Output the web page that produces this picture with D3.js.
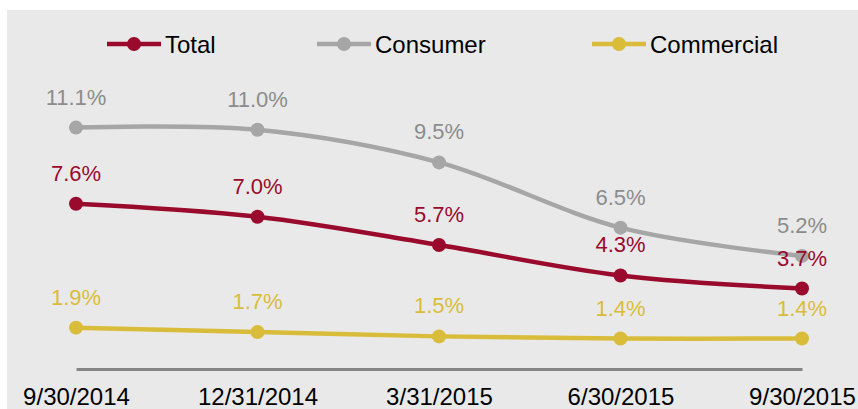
<!DOCTYPE html>
<html>
<head>
<meta charset="utf-8">
<script src="https://cdn.jsdelivr.net/npm/d3@7"></script>
<style>
  body { margin: 0; background: #fff; }
  svg { display: block; font-family: "Liberation Sans", Arial, sans-serif; }
</style>
</head>
<body>
<div id="chart"></div>
<script>
// quarter-end dates on the x axis
var dates = ["9/30/2014", "12/31/2014", "3/31/2015", "6/30/2015", "9/30/2015"];

// rates in percent
var total = [7.6, 7.0, 5.7, 4.3, 3.7];
var consumer = [11.1, 11.0, 9.5, 6.5, 5.2];
var commercial = [1.9, 1.7, 1.5, 1.4, 1.4];

var seriesNames = ["Total", "Consumer", "Commercial"];

var width = 858, height = 409;

var series = [
  {name: seriesNames[0], values: total, color: "#990a2c", label: "#990a2c"},
  {name: seriesNames[1], values: consumer, color: "#a6a6a6", label: "#8c8c8c"},
  {name: seriesNames[2], values: commercial, color: "#d9bd3a", label: "#d9bd3a"}
];

var svg = d3.select("#chart").append("svg")
    .attr("width", width)
    .attr("height", height);

// grey plot background
svg.append("rect")
    .attr("x", 7)
    .attr("y", 10)
    .attr("width", width - 7)
    .attr("height", height - 10)
    .attr("fill", "#e9e9e9");

var xScale = d3.scalePoint()
    .domain(dates)
    .range([76, 802]);

var yScale = d3.scaleLinear()
    .domain([0, 12])
    .range([369, 108]);

var xAxis = d3.axisBottom(xScale)
    .tickSize(0)
    .tickPadding(19);

var gx = svg.append("g")
    .attr("transform", "translate(0," + yScale(0) + ")")
    .call(xAxis);

gx.select(".domain")
    .attr("stroke", "#858585")
    .attr("stroke-width", 3);

gx.selectAll("text")
    .attr("fill", "#000")
    .style("font-size", "24px")
    .style("font-family", "'Liberation Sans', Arial, sans-serif");

var line = d3.line()
    .x(function (d, i) { return xScale(dates[i]); })
    .y(function (d) { return yScale(d); })
    .curve(d3.curveCardinal.tension(0));

// lines and markers, drawn from back to front
var order = [2, 1, 0];
order.forEach(function (k) {
    var s = series[k];
    var g = svg.append("g");
    g.append("path")
        .datum(s.values)
        .attr("fill", "none")
        .attr("stroke", s.color)
        .attr("stroke-width", 4.5)
        .attr("d", line);
    g.selectAll("circle")
        .data(s.values)
        .enter().append("circle")
        .attr("cx", function (d, i) { return xScale(dates[i]); })
        .attr("cy", function (d) { return yScale(d); })
        .attr("r", 7)
        .attr("fill", s.color);
});

// value labels on top
series.forEach(function (s) {
    svg.append("g").selectAll("text")
        .data(s.values)
        .enter().append("text")
        .attr("x", function (d, i) { return xScale(dates[i]); })
        .attr("y", function (d) { return yScale(d) - 23; })
        .attr("text-anchor", "middle")
        .attr("fill", s.label)
        .style("font-size", "22px")
        .text(function (d) { return d.toFixed(1) + "%"; });
});

// legend
var legendX = [107, 317, 592];
var legend = svg.append("g").attr("transform", "translate(0,44)");
series.forEach(function (s, i) {
    var g = legend.append("g").attr("transform", "translate(" + legendX[i] + ",0)");
    g.append("line")
        .attr("x1", 0).attr("x2", 54)
        .attr("stroke", s.color)
        .attr("stroke-width", 4.5);
    g.append("circle")
        .attr("cx", 27)
        .attr("r", 7)
        .attr("fill", s.color);
    g.append("text")
        .attr("x", 58)
        .attr("y", 8.5)
        .attr("fill", "#000")
        .style("font-size", "24px")
        .text(s.name);
});
</script>
</body>
</html>
